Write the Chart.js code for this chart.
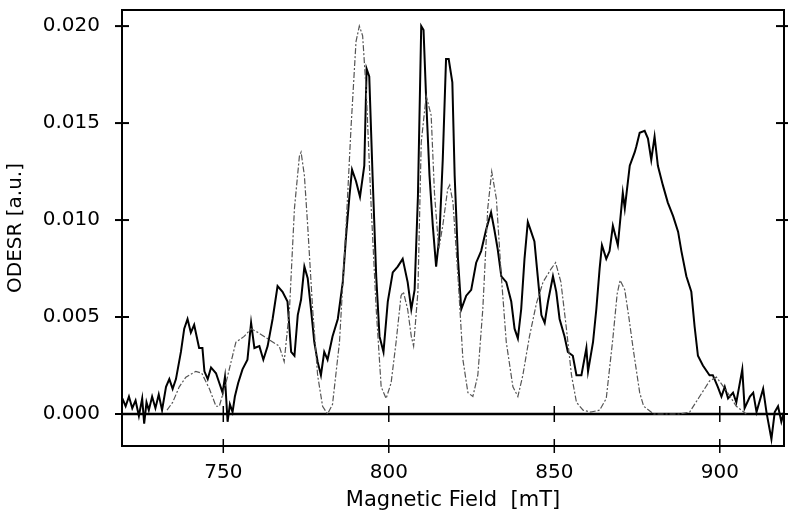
<!DOCTYPE html>
<html>
<head>
<meta charset="utf-8">
<script src="https://cdn.jsdelivr.net/npm/chart.js@4/dist/chart.umd.min.js"></script>
<style>
  html, body { margin: 0; padding: 0; background: #fff; }
  canvas { display: block; }
</style>
</head>
<body>
<canvas id="c" width="790" height="521"></canvas>
<script>
// ---- Data ----
const xTicks = [750, 800, 850, 900];
const yTicks = [0, 0.005, 0.010, 0.015, 0.020];

// Experimental ODESR trace (solid)
const expField = [
  719.5, 720.5, 721.5, 722.5, 723.5, 724.5, 725.5, 726.1, 726.8, 727.5,
  728.5, 729.5, 730.5, 731.5, 732.7, 733.7, 734.7, 735.7, 737.2, 738.2,
  739.2, 740.2, 741.2, 742.7, 743.7, 744.3, 745.3, 746.3, 747.8, 748.8,
  749.8, 750.5, 751.3, 752.0, 752.8, 753.5, 754.5, 755.8, 757.3, 758.4,
  759.4, 760.9, 762.1, 763.4, 764.9, 766.4, 767.9, 769.4, 770.5, 771.5,
  772.5, 773.5, 774.5, 775.5, 776.5, 777.5, 778.5, 779.5, 780.5, 781.5,
  783.0, 784.6, 786.1, 787.1, 788.1, 788.9, 790.1, 791.3, 792.6, 793.3,
  794.1, 795.1, 796.2, 797.2, 798.4, 799.7, 801.2, 802.7, 804.2, 805.7,
  806.8, 807.8, 808.8, 809.8, 810.5, 811.3, 812.3, 813.3, 814.3, 815.3,
  816.3, 817.3, 818.1, 819.2, 819.9, 820.9, 821.9, 823.4, 824.9, 826.4,
  827.9, 829.4, 830.9, 831.9, 832.9, 834.0, 835.5, 837.0, 838.0, 839.0,
  840.0, 841.0, 842.0, 843.0, 844.0, 845.0, 846.1, 847.1, 848.1, 849.6,
  850.6, 851.6, 853.1, 854.1, 855.6, 856.7, 858.2, 859.7, 860.2, 861.7,
  862.7, 863.7, 864.4, 865.7, 866.7, 867.7, 869.2, 870.7, 871.3, 872.8,
  874.3, 874.8, 875.8, 877.3, 878.3, 879.3, 880.3, 881.3, 882.8, 884.3,
  885.9, 887.4, 888.4, 889.9, 891.4, 892.4, 893.4, 894.9, 896.9, 897.9,
  899.4, 900.5, 901.5, 902.5, 904.0, 905.0, 906.8, 907.5, 909.1, 910.1,
  911.1, 913.1, 914.1, 915.6, 916.6, 917.6, 918.6, 919.4
];
const expSignal = [
  0.0008, 0.0004, 0.0009, 0.0003, 0.0007, -0.0001, 0.0008, -0.0005, 0.0006, 0.0002,
  0.0009, 0.0003, 0.0010, 0.0002, 0.0014, 0.0018, 0.0013, 0.0018, 0.0032, 0.0044,
  0.0049, 0.0042, 0.0046, 0.0034, 0.0034, 0.0022, 0.0018, 0.0024, 0.0021, 0.0016,
  0.0011, 0.0019, -0.0004, 0.0005, 0.0001, 0.0009, 0.0016, 0.0023, 0.0028, 0.0047,
  0.0034, 0.0035, 0.0028, 0.0035, 0.0049, 0.0066, 0.0063, 0.0058, 0.0032, 0.0030,
  0.0051, 0.0059, 0.0076, 0.0070, 0.0054, 0.0037, 0.0027, 0.0020, 0.0032, 0.0028,
  0.0040, 0.0049, 0.0068, 0.0092, 0.0112, 0.0126, 0.0120, 0.0112, 0.0128, 0.0178,
  0.0174, 0.0123, 0.0071, 0.0040, 0.0032, 0.0058, 0.0073, 0.0076, 0.0080, 0.0068,
  0.0054, 0.0064, 0.0112, 0.0200, 0.0198, 0.0162, 0.0123, 0.0097, 0.0076, 0.0092,
  0.0131, 0.0183, 0.0183, 0.0171, 0.0123, 0.0080, 0.0054, 0.0061, 0.0064, 0.0078,
  0.0084, 0.0095, 0.0104, 0.0095, 0.0085, 0.0071, 0.0068, 0.0058, 0.0044, 0.0039,
  0.0054, 0.0080, 0.0099, 0.0094, 0.0089, 0.0071, 0.0051, 0.0047, 0.0058, 0.0071,
  0.0063, 0.0049, 0.0040, 0.0032, 0.0030, 0.0020, 0.0020, 0.0034, 0.0022, 0.0037,
  0.0054, 0.0075, 0.0087, 0.0080, 0.0084, 0.0097, 0.0087, 0.0114, 0.0106, 0.0128,
  0.0135, 0.0138, 0.0145, 0.0146, 0.0142, 0.0131, 0.0143, 0.0128, 0.0118, 0.0109,
  0.0102, 0.0094, 0.0084, 0.0071, 0.0063, 0.0045, 0.0030, 0.0025, 0.0020, 0.0020,
  0.0014, 0.0009, 0.0014, 0.0008, 0.0011, 0.0006, 0.0023, 0.0003, 0.0009, 0.0011,
  0.0001, 0.0013, 0.0001, -0.0013, 0.0001, 0.0004, -0.0004, 0.0001
];

// Simulated spectrum (dash-dot)
const simField = [
  733.0, 734.7, 736.7, 738.7, 741.7, 743.5, 745.8, 747.8, 748.8, 750.8,
  752.8, 753.8, 756.3, 758.4, 760.5, 766.9, 768.4, 770.0, 771.5, 773.0,
  773.5, 774.5, 775.5, 777.0, 778.5, 780.0, 781.5, 783.0, 785.1, 787.1,
  788.6, 790.1, 791.1, 792.1, 793.2, 794.7, 796.2, 797.7, 799.2, 800.7,
  802.2, 803.7, 804.4, 805.7, 806.8, 807.5, 808.8, 809.8, 811.3, 812.8,
  813.8, 815.1, 816.3, 817.8, 818.4, 819.4, 820.9, 822.4, 823.9, 825.4,
  826.9, 828.4, 829.9, 831.1, 832.5, 834.0, 835.5, 837.5, 839.0, 840.5,
  842.5, 844.6, 846.6, 849.1, 850.4, 852.0, 853.6, 855.2, 856.7, 858.7,
  861.0, 863.7, 865.7, 867.7, 869.0, 869.9, 871.3, 872.6, 873.8, 875.8,
  877.0, 880.0, 888.0, 890.9, 893.9, 896.9, 899.0, 902.0, 905.0, 908.0
];
const simSignal = [
  0.0002, 0.0006, 0.0014, 0.0019, 0.0022, 0.0021, 0.0013, 0.0004, 0.0004, 0.0016,
  0.0030, 0.0037, 0.0040, 0.0044, 0.0042, 0.0035, 0.0027, 0.0054, 0.0106, 0.0133,
  0.0135, 0.0123, 0.0097, 0.0054, 0.0020, 0.0004, 0.0000, 0.0005, 0.0037, 0.0097,
  0.0148, 0.0192, 0.0200, 0.0195, 0.0166, 0.0106, 0.0054, 0.0014, 0.0008, 0.0016,
  0.0037, 0.0061, 0.0063, 0.0054, 0.0040, 0.0035, 0.0063, 0.0140, 0.0164, 0.0154,
  0.0114, 0.0085, 0.0097, 0.0116, 0.0118, 0.0109, 0.0071, 0.0028, 0.0011, 0.0009,
  0.0020, 0.0054, 0.0106, 0.0125, 0.0111, 0.0071, 0.0037, 0.0014, 0.0009, 0.0020,
  0.0040, 0.0057, 0.0068, 0.0075, 0.0078, 0.0068, 0.0045, 0.0020, 0.0006, 0.0002,
  0.0001, 0.0002, 0.0008, 0.0039, 0.0062, 0.0069, 0.0064, 0.0049, 0.0034, 0.0011,
  0.0004, 0.0000, 0.0000, 0.0001, 0.0009, 0.0017, 0.0019, 0.0012, 0.0004, 0.0000
];

const xMin = 719.4, xMax = 919.4;
const yMin = -0.00165, yMax = 0.02083;

const FONT = 'DejaVu Sans';

const toPoints = (xs, ys) => xs.map((x, i) => ({ x: x, y: ys[i] }));

const framePlugin = {
  id: 'frame',
  beforeDatasetsDraw(chart) {
    const { ctx, chartArea: a, scales: { x, y } } = chart;
    const y0 = y.getPixelForValue(0);
    ctx.save();
    ctx.strokeStyle = '#000';
    ctx.lineWidth = 2.5;
    ctx.beginPath();
    ctx.moveTo(a.left, y0);
    ctx.lineTo(a.right, y0);
    ctx.stroke();
    ctx.lineWidth = 1.5;
    xTicks.forEach(v => {
      const px = x.getPixelForValue(v);
      ctx.beginPath();
      ctx.moveTo(px, y0 - 8);
      ctx.lineTo(px, y0 + 8);
      ctx.stroke();
    });
    ctx.restore();
  },
  afterDraw(chart) {
    const { ctx, chartArea: a, scales: { x, y } } = chart;
    ctx.save();
    ctx.strokeStyle = '#000';
    ctx.lineWidth = 2;
    ctx.strokeRect(a.left, a.top, a.right - a.left, a.bottom - a.top);
    yTicks.forEach(v => {
      const py = y.getPixelForValue(v);
      ctx.beginPath();
      ctx.moveTo(a.left - 7, py);
      ctx.lineTo(a.left + 7, py);
      ctx.stroke();
      ctx.beginPath();
      ctx.moveTo(a.right - 8, py);
      ctx.lineTo(a.right + 4, py);
      ctx.stroke();
    });
    ctx.lineWidth = 1.5;
    xTicks.forEach(v => {
      const px = x.getPixelForValue(v);
      ctx.beginPath();
      ctx.moveTo(px, a.bottom - 7);
      ctx.lineTo(px, a.bottom + 7);
      ctx.stroke();
    });
    ctx.restore();
  }
};

new Chart(document.getElementById('c'), {
  type: 'line',
  data: {
    datasets: [
      {
        label: 'Simulation',
        data: toPoints(simField, simSignal),
        borderColor: '#555',
        borderWidth: 1.2,
        borderDash: [6, 2, 2, 2],
        pointRadius: 0,
        fill: false,
        tension: 0
      },
      {
        label: 'Experiment',
        data: toPoints(expField, expSignal),
        borderColor: '#000',
        borderWidth: 2,
        pointRadius: 0,
        fill: false,
        tension: 0
      }
    ]
  },
  options: {
    responsive: false,
    animation: false,
    events: [],
    layout: { padding: { top: 10, right: 6, left: 0, bottom: 0 } },
    plugins: { legend: { display: false }, tooltip: { enabled: false } },
    scales: {
      x: {
        type: 'linear',
        min: xMin,
        max: xMax,
        afterBuildTicks: s => { s.ticks = xTicks.map(v => ({ value: v })); },
        grid: { display: false, drawTicks: false },
        border: { display: false },
        ticks: {
          padding: 15,
          color: '#000',
          maxRotation: 0,
          font: { family: FONT, size: 20 },
          callback: v => String(v)
        },
        title: {
          display: true,
          text: 'Magnetic Field  [mT]',
          color: '#000',
          font: { family: FONT, size: 21 },
          padding: { top: 0, bottom: 8 }
        },
        afterFit: s => { s.height = 75; s.paddingLeft = 0; s.paddingRight = 0; }
      },
      y: {
        type: 'linear',
        min: yMin,
        max: yMax,
        afterBuildTicks: s => { s.ticks = yTicks.map(v => ({ value: v })); },
        grid: { display: false, drawTicks: false },
        border: { display: false },
        ticks: {
          padding: 22,
          color: '#000',
          font: { family: FONT, size: 20 },
          callback: v => Number(v).toFixed(3)
        },
        title: {
          display: true,
          text: 'ODESR [a.u.]',
          color: '#000',
          font: { family: FONT, size: 20 },
          padding: { top: 4, bottom: 0 }
        },
        afterFit: s => { s.width = 122; s.paddingTop = 0; s.paddingBottom = 0; }
      }
    }
  },
  plugins: [framePlugin]
});
</script>
</body>
</html>
